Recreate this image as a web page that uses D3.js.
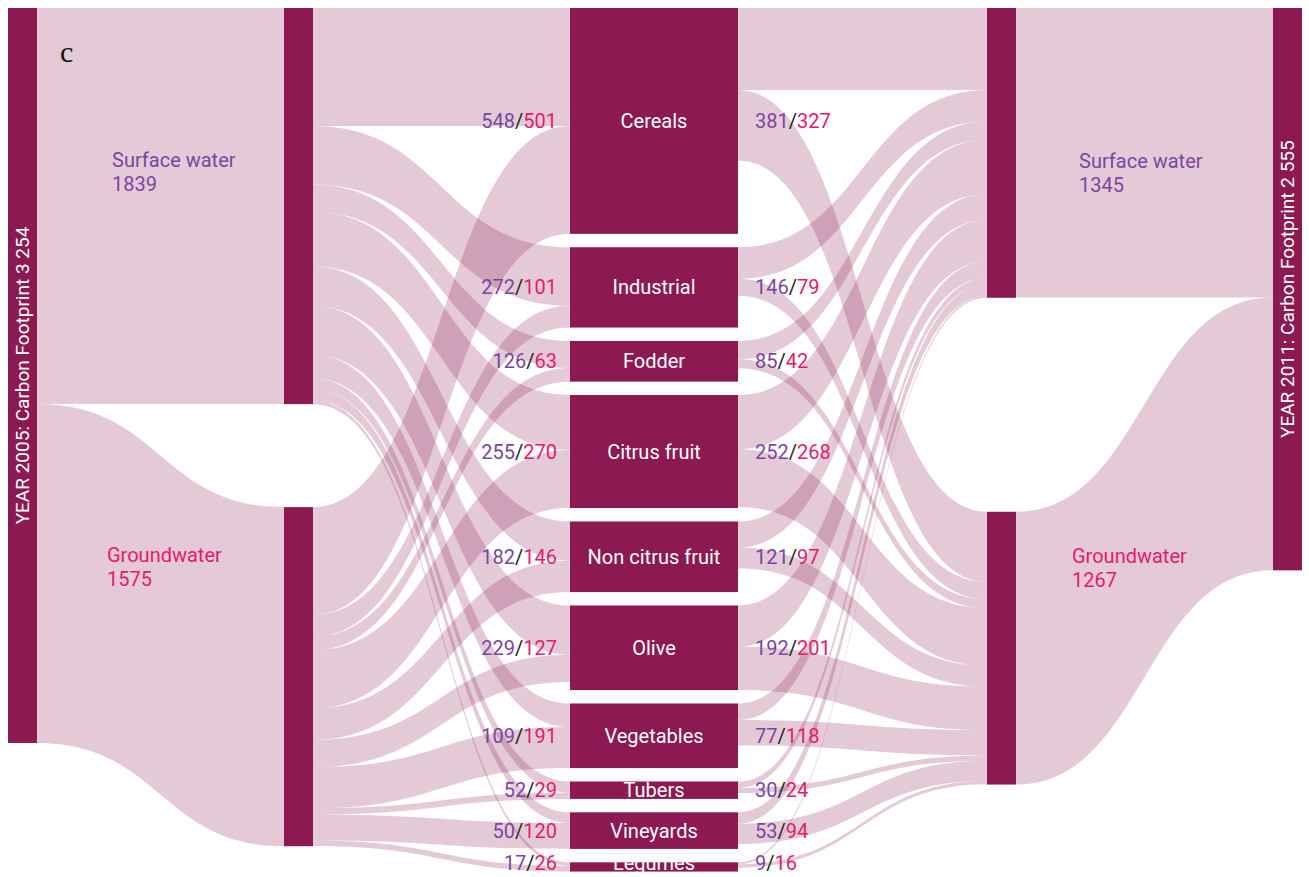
<!DOCTYPE html>
<html>
<head>
<meta charset="utf-8">
<script src="https://cdn.jsdelivr.net/npm/d3@7"></script>
<style>
  body { margin: 0; background: #fff; }
  svg { display: block; font-family: Roboto, "Noto Sans", sans-serif; }
</style>
</head>
<body>
<svg id="chart" width="1309" height="877"></svg>
<script>
// crops in the middle column, top to bottom
const crops = ['Cereals', 'Industrial', 'Fodder', 'Citrus fruit', 'Non citrus fruit',
               'Olive', 'Vegetables', 'Tubers', 'Vineyards', 'Legumes'];
// water footprint per crop, 2005 (surface / ground) and 2011 (surface / ground)
const surface2005 = [548, 272, 126, 255, 182, 229, 109, 52, 50, 17];
const ground2005  = [501, 101, 63, 270, 146, 127, 191, 29, 120, 26];
const surface2011 = [381, 146, 85, 252, 121, 192, 77, 30, 53, 9];
const ground2011  = [327, 79, 42, 268, 97, 201, 118, 24, 94, 16];
const sourceNames = ['Surface water', 'Groundwater'];
const totals2005 = [1839, 1575];
const totals2011 = [1345, 1267];
const yearLabels = ['YEAR 2005: Carbon Footprint 3 254', 'YEAR 2011: Carbon  Footprint 2 555'];

// layout
const colX = [[8, 37], [284, 313], [570, 738], [987, 1016], [1273, 1302]];
const colPad = [0, 103, 13.4, 214, 0];
const topY = 8;
const labelMaxY = 863;
const nodeColor = '#8c1951';
const purple = '#7b45a3';
const pink = '#e8196d';

const svg = d3.select('#chart');

// build nodes / links
const nodes = [];
const addNode = (id, col, name) => { const n = { id, col, name, sourceLinks: [], targetLinks: [] }; nodes.push(n); return n; };
const y05 = addNode('y2005', 0, yearLabels[0]);
const src05 = sourceNames.map((s, i) => addNode('s05_' + i, 1, s));
const cropNodes = crops.map((c, i) => addNode('c' + i, 2, c));
const src11 = sourceNames.map((s, i) => addNode('s11_' + i, 3, s));
const y11 = addNode('y2011', 4, yearLabels[1]);

const links = [];
const addLink = (source, target, value) => {
  const l = { source, target, value };
  links.push(l); source.sourceLinks.push(l); target.targetLinks.push(l);
};
src05.forEach((s, i) => addLink(y05, s, totals2005[i]));
crops.forEach((c, i) => {
  addLink(src05[0], cropNodes[i], surface2005[i]);
  addLink(src05[1], cropNodes[i], ground2005[i]);
});
crops.forEach((c, i) => {
  addLink(cropNodes[i], src11[0], surface2011[i]);
  addLink(cropNodes[i], src11[1], ground2011[i]);
});
src11.forEach((s, i) => addLink(s, y11, totals2011[i]));

nodes.forEach(n => {
  n.value = Math.max(d3.sum(n.sourceLinks, l => l.value), d3.sum(n.targetLinks, l => l.value));
});

const yScale = d3.scaleLinear()
  .domain([0, d3.max(nodes, n => n.value)])
  .range([0, 735]);

// stack nodes per column
d3.groups(nodes, n => n.col).forEach(([col, list]) => {
  let y = topY;
  list.forEach(n => {
    n.x0 = colX[col][0]; n.x1 = colX[col][1];
    n.y0 = y; n.y1 = y + yScale(n.value);
    y = n.y1 + colPad[col];
  });
});

// link positions on each node
nodes.forEach(n => {
  n.sourceLinks.sort((a, b) => a.target.y0 - b.target.y0);
  n.targetLinks.sort((a, b) => a.source.y0 - b.source.y0);
  let y = n.y0;
  n.sourceLinks.forEach(l => { l.sy0 = y; y += yScale(l.value); l.sy1 = y; });
  y = n.y0;
  n.targetLinks.forEach(l => { l.ty0 = y; y += yScale(l.value); l.ty1 = y; });
});

const linkPath = l => {
  const x0 = l.source.x1, x1 = l.target.x0, xm = (x0 + x1) / 2;
  const p = d3.path();
  p.moveTo(x0, l.sy0);
  p.bezierCurveTo(xm, l.sy0, xm, l.ty0, x1, l.ty0);
  p.lineTo(x1, l.ty1);
  p.bezierCurveTo(xm, l.ty1, xm, l.sy1, x0, l.sy1);
  p.closePath();
  return p.toString();
};

svg.append('g')
  .selectAll('path')
  .data(links)
  .join('path')
    .attr('d', linkPath)
    .attr('fill', nodeColor)
    .attr('fill-opacity', 0.23);

svg.append('g')
  .selectAll('rect')
  .data(nodes)
  .join('rect')
    .attr('x', d => d.x0)
    .attr('y', d => d.y0)
    .attr('width', d => d.x1 - d.x0)
    .attr('height', d => d.y1 - d.y0)
    .attr('fill', nodeColor);

const labelY = n => Math.min((n.y0 + n.y1) / 2, labelMaxY);

// crop names
svg.append('g')
  .selectAll('text')
  .data(cropNodes)
  .join('text')
    .attr('x', d => (d.x0 + d.x1) / 2)
    .attr('y', labelY)
    .attr('dy', '0.35em')
    .attr('text-anchor', 'middle')
    .attr('fill', '#fff')
    .attr('font-size', 20)
    .text(d => d.name);

// value pairs beside the crops
const pairLabel = (sel, a, b) => {
  sel.append('tspan').attr('fill', purple).text(a);
  sel.append('tspan').attr('fill', '#222').text('/');
  sel.append('tspan').attr('fill', pink).text(b);
};
cropNodes.forEach((n, i) => {
  const cy = labelY(n);
  svg.append('text')
    .attr('x', n.x0 - 13).attr('y', cy).attr('dy', '0.35em')
    .attr('text-anchor', 'end').attr('font-size', 20)
    .call(pairLabel, surface2005[i], ground2005[i]);
  svg.append('text')
    .attr('x', n.x1 + 17).attr('y', cy).attr('dy', '0.35em')
    .attr('font-size', 20)
    .call(pairLabel, surface2011[i], ground2011[i]);
});

// year labels, vertical
[y05, y11].forEach(n => {
  svg.append('text')
    .attr('transform', `translate(${(n.x0 + n.x1) / 2},${(n.y0 + n.y1) / 2}) rotate(-90)`)
    .attr('dy', '0.35em')
    .attr('text-anchor', 'middle')
    .attr('fill', '#fff')
    .attr('font-size', 19)
    .text(n.name);
});

// water source labels inside the wide bands
const sideLabelPos = [[112, 167], [107, 562], [1079, 168], [1072, 563]];
const sideLabels = [...src05.map((n, i) => [n, totals2005[i]]), ...src11.map((n, i) => [n, totals2011[i]])];
sideLabels.forEach(([n, total], i) => {
  const t = svg.append('text')
    .attr('x', sideLabelPos[i][0]).attr('y', sideLabelPos[i][1])
    .attr('font-size', 20)
    .attr('fill', i % 2 === 0 ? purple : pink);
  t.append('tspan').text(n.name);
  t.append('tspan').attr('x', sideLabelPos[i][0]).attr('dy', 24)
    .text(total);
});

svg.append('text')
  .attr('x', 60).attr('y', 62)
  .attr('font-family', '"Liberation Serif", serif')
  .attr('font-size', 30)
  .attr('fill', '#111')
  .text('c');
</script>
</body>
</html>
